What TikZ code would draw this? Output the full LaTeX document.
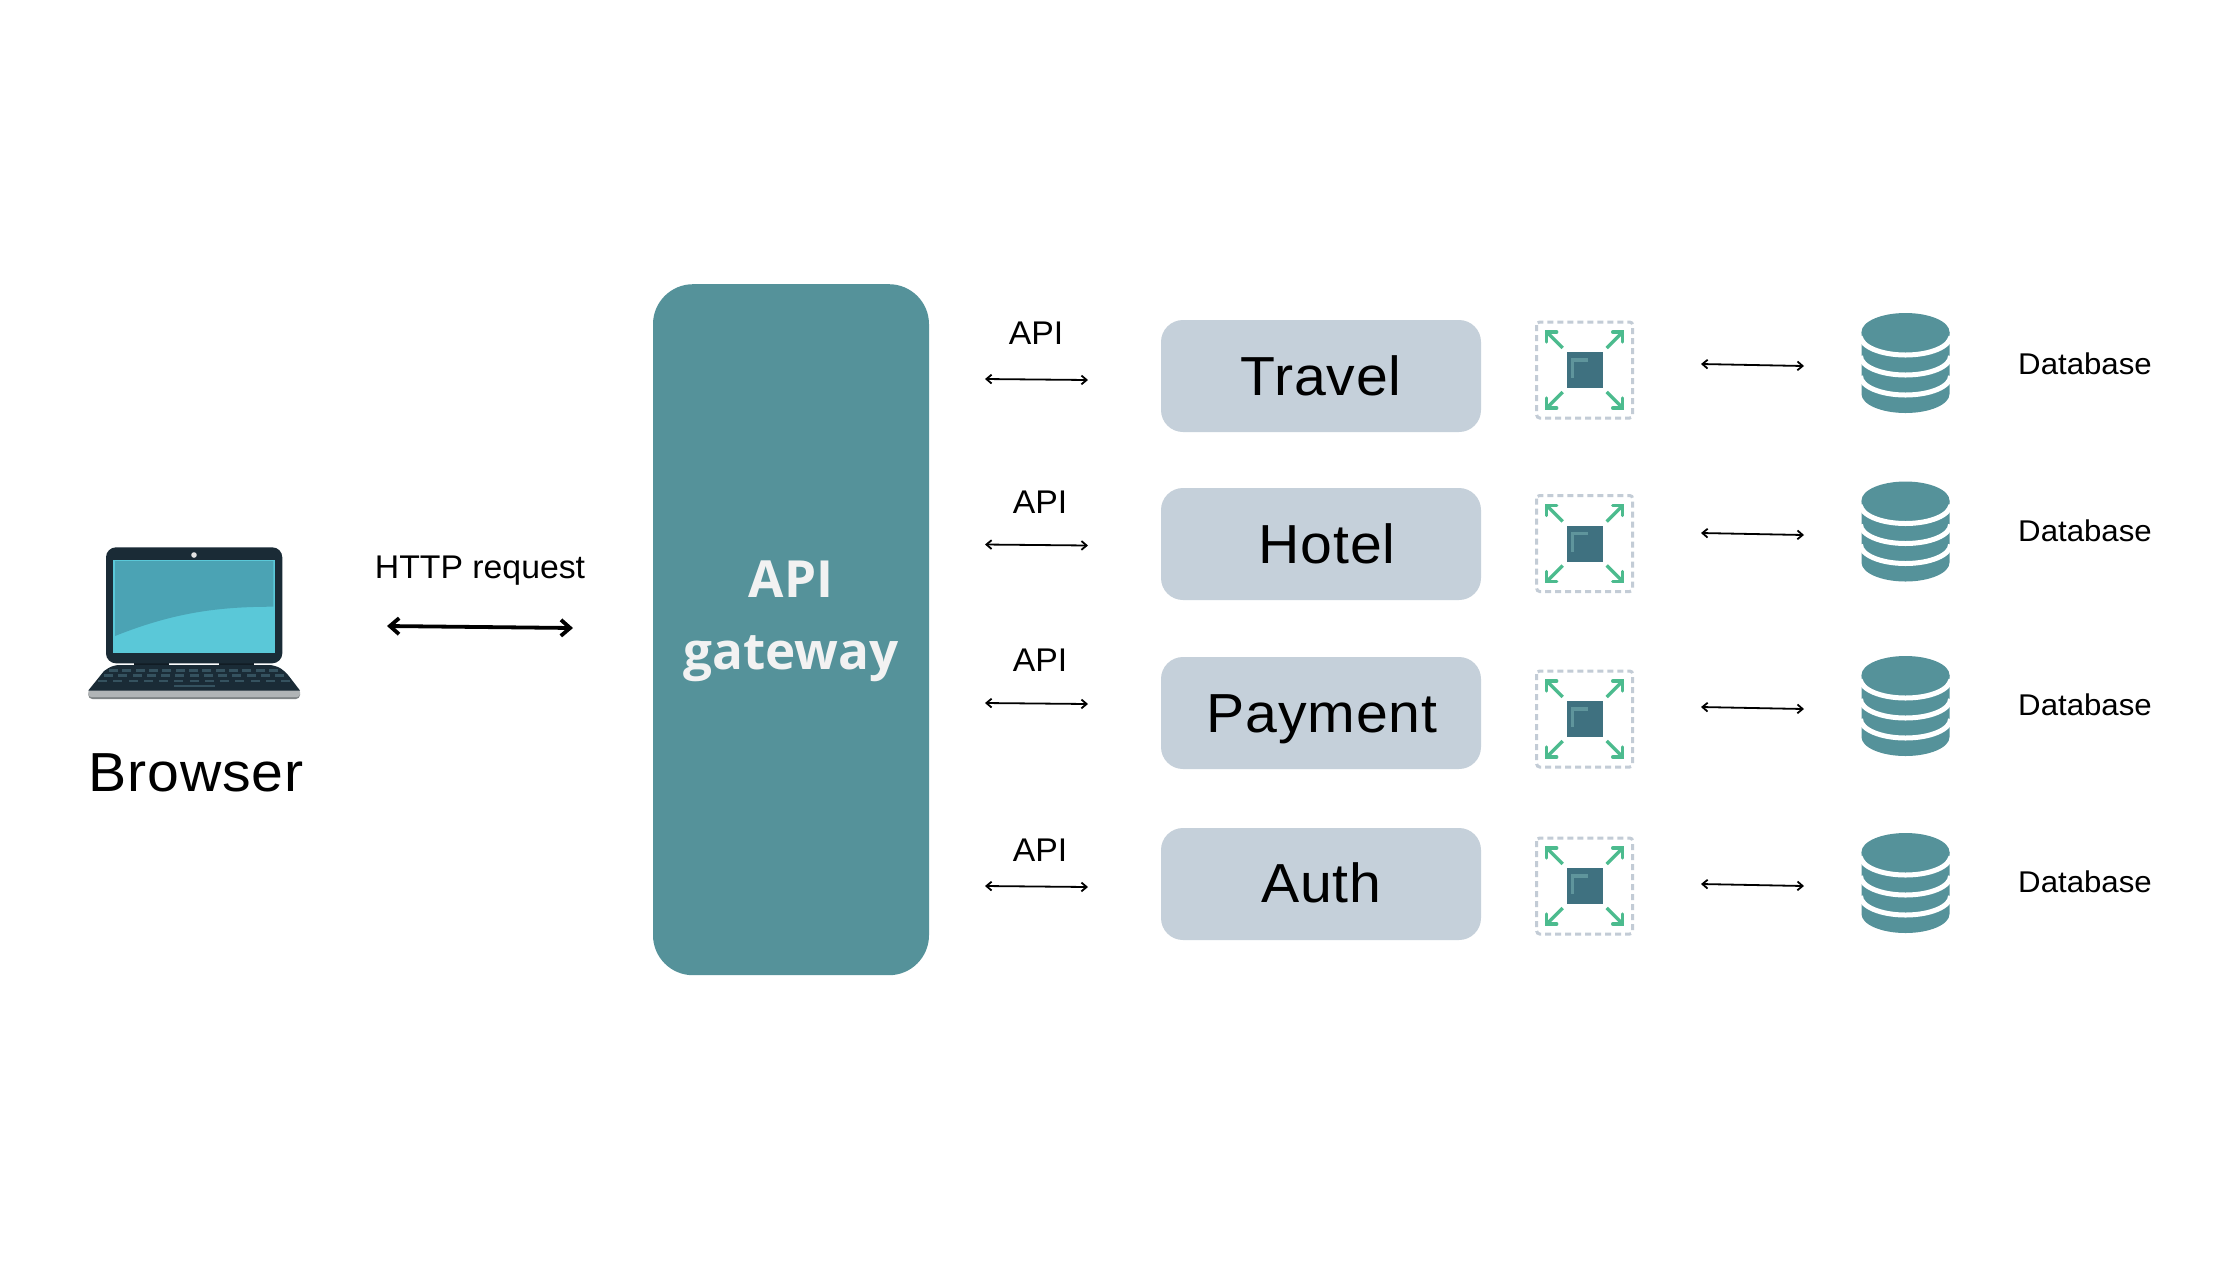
\documentclass[tikz,border=0pt]{standalone}
\usepackage{fontspec}
\usetikzlibrary{arrows.meta}
\setmainfont{Liberation Sans}
\newfontfamily\bigfam[FakeStretch=1.04,LetterSpace=1.5]{Liberation Sans}
\newfontfamily\dbfam[FakeStretch=1.04]{Liberation Sans}
\newfontfamily\apifam[FakeStretch=1.03]{Liberation Sans}
\newfontfamily\gwfam{Open Sans}
\definecolor{tealc}{HTML}{55929A}
\definecolor{svc}{HTML}{C5D0DA}
\definecolor{dashc}{HTML}{C3CCD6}
\definecolor{grn}{HTML}{4CBB8E}
\definecolor{chip}{HTML}{3F7180}
\definecolor{chiphi}{HTML}{5F959C}
\definecolor{lapdark}{HTML}{1A2B36}
\definecolor{hinge}{HTML}{111C24}
\definecolor{scrlight}{HTML}{5AC8D8}
\definecolor{scrdark}{HTML}{4BA3B4}
\definecolor{keyc}{HTML}{35525F}
\definecolor{silver}{HTML}{B0B4B6}
\definecolor{silverd}{HTML}{7F8486}
\tikzset{
  gwbox/.style={fill=tealc,rounded corners=20pt,minimum width=138pt,minimum height=345.5pt,inner sep=0pt},
  svcbox/.style={fill=svc,rounded corners=11pt,minimum width=160pt,minimum height=56pt,inner sep=0pt},
  svctext/.style={anchor=base,inner sep=0pt,font=\bigfam\fontsize{27.5}{30}\selectfont,text=black},
  apitext/.style={anchor=base,inner sep=0pt,font=\apifam\fontsize{16.4}{20}\selectfont,text=black},
  dbtext/.style={anchor=base,inner sep=0pt,font=\dbfam\fontsize{15}{18}\selectfont,text=black},
  gwtext/.style={anchor=base,inner sep=0pt,font=\gwfam\bfseries\fontsize{25.6}{30}\selectfont,text=white!95!black},
  thinlink/.style={draw=black,line width=0.9pt,{Straight Barb[length=2.6pt,width=4.4pt,line width=0.9pt]}-{Straight Barb[length=2.6pt,width=4.4pt,line width=0.9pt]}},
  thicklink/.style={draw=black,line width=1.9pt,{Straight Barb[length=4.6pt,width=8pt,line width=1.9pt]}-{Straight Barb[length=4.6pt,width=8pt,line width=1.9pt]}},
  greenarrow/.style={draw=grn,line width=1.7pt},
}
\newcommand{\scaleicon}[2]{%
  \begin{scope}[shift={(#1,#2)}]
    \draw[dashc,line width=1.5pt,dash pattern=on 3pt off 2pt,rounded corners=1.5pt] (-48,-48) rectangle (48,48);
    \fill[chip] (-18,-18) rectangle (18,18);
    \draw[chiphi,line width=1.6pt] (-12,8) -- (-12,-10) -- (3,-10);
    \foreach \sx/\sy in {-1/-1,1/-1,-1/1,1/1}{
      \draw[greenarrow] (\sx*22,\sy*22) -- (\sx*38,\sy*38);
      \draw[greenarrow,line cap=round] (\sx*38,\sy*28) -- (\sx*38,\sy*38) -- (\sx*28,\sy*38);
    }
  \end{scope}}
\newcommand{\dbicon}[2]{%
  \begin{scope}[shift={(#1,#2)}]
    \fill[tealc] (-44,19) -- (-44,81) arc[start angle=180,end angle=0,x radius=44,y radius=19] -- (44,19) -- cycle;
    \foreach \c in {23,43,63}{
      \draw[white,line width=2.5pt] (-45,\c) arc[start angle=180,end angle=0,x radius=45,y radius=19];
    }
    \fill[tealc] (0,19) ellipse[x radius=44,y radius=19];
  \end{scope}}
\begin{document}
\begin{tikzpicture}[x=0.5pt,y=-0.5pt]
\useasboundingbox (0,0) rectangle (2240,1260);
\fill[white] (0,0) rectangle (2240,1260);
% laptop
\fill[hinge] (134,660) rectangle (169.3,666.5);
\fill[hinge] (219,660) rectangle (254,666.5);
\fill[lapdark,rounded corners=5pt] (106,547.3) rectangle (282.3,663.3);
\fill[scrlight] (113.3,560) rectangle (275,652.7);
\fill[scrdark] (115,561) -- (273.3,561) -- (273.3,606.7) .. controls (220,606.7) and (175,612) .. (115,636) -- cycle;
\fill[white!78!gray] (194,555) circle[radius=2.8];
\fill[silverd,rounded corners=2pt] (88.3,690) -- (300,690) -- (300,699) -- (88.3,699) -- cycle;
\fill[silver,rounded corners=1.5pt] (88.3,689) -- (300,689) -- (300,697) -- (88.3,697) -- cycle;
\fill[lapdark] (88.3,690.5) -- (104,671) [rounded corners=3pt] -- (113,665) -- (275,665) -- (285,671) [sharp corners] -- (300,690.5) -- cycle;
\foreach \r/\y/\xa/\xb in {1/670.7/109/278,2/675.7/104/284,3/681/98/290}{
  \foreach \k in {0,...,12}{
    \fill[keyc] ({\xa+(\xb-\xa-9)*\k/12},\y-1.3) rectangle ++(9,2.6);
  }
}
\fill[keyc] (174,684.5) rectangle (215,687);
\node[svctext] (browser) at (196,791) {Browser};
% http link
\node[apitext] (http) at (480,578) {HTTP request};
\coordinate (ha) at (387,626);
\coordinate (hb) at (573,628);
\draw[thicklink] (ha) -- (hb);
% gateway
\node[gwbox] (gw) at (791,629.7) {};
\node[gwtext] (gw1) at (791,597) {API};
\node[gwtext] (gw2) at (791,669) {gateway};
% services
\node[svcbox] (travel) at (1321,376) {};
\node[svcbox] (hotel) at (1321,544) {};
\node[svcbox] (payment) at (1321,713) {};
\node[svcbox] (auth) at (1321,884) {};
\node[svctext] (t1) at (1321,395) {Travel};
\node[svctext] (t2) at (1327,563) {Hotel};
\node[svctext] (t3) at (1322,732) {Payment};
\node[svctext] (t4) at (1321.5,902) {Auth};
% API labels and links
\node[apitext] (api1) at (1036,344) {API};
\node[apitext] (api2) at (1040,513) {API};
\node[apitext] (api3) at (1040,671) {API};
\node[apitext] (api4) at (1040,861) {API};
\coordinate (a1l) at (985,379); \coordinate (a1r) at (1088,380);
\coordinate (a2l) at (985,544.5); \coordinate (a2r) at (1088,545.5);
\coordinate (a3l) at (985,703); \coordinate (a3r) at (1088,704);
\coordinate (a4l) at (985,886); \coordinate (a4r) at (1088,887);
\draw[thinlink] (a1l) -- (a1r);
\draw[thinlink] (a2l) -- (a2r);
\draw[thinlink] (a3l) -- (a3r);
\draw[thinlink] (a4l) -- (a4r);
% scale icons
\scaleicon{1584.7}{370}
\scaleicon{1584.7}{543.5}
\scaleicon{1584.7}{719}
\scaleicon{1584.7}{886}
% db links
\coordinate (d1l) at (1701,364); \coordinate (d1r) at (1804,366);
\coordinate (d2l) at (1701,533); \coordinate (d2r) at (1804,535);
\coordinate (d3l) at (1701,707); \coordinate (d3r) at (1804,709);
\coordinate (d4l) at (1701,884); \coordinate (d4r) at (1804,886);
\draw[thinlink] (d1l) -- (d1r);
\draw[thinlink] (d2l) -- (d2r);
\draw[thinlink] (d3l) -- (d3r);
\draw[thinlink] (d4l) -- (d4r);
% databases
\dbicon{1905.5}{313}
\dbicon{1905.5}{481.5}
\dbicon{1905.5}{656}
\dbicon{1905.5}{833}
\node[dbtext] (db1) at (2085,374) {Database};
\node[dbtext] (db2) at (2085,541) {Database};
\node[dbtext] (db3) at (2085,715.5) {Database};
\node[dbtext] (db4) at (2085,892.5) {Database};
\end{tikzpicture}
\end{document}
